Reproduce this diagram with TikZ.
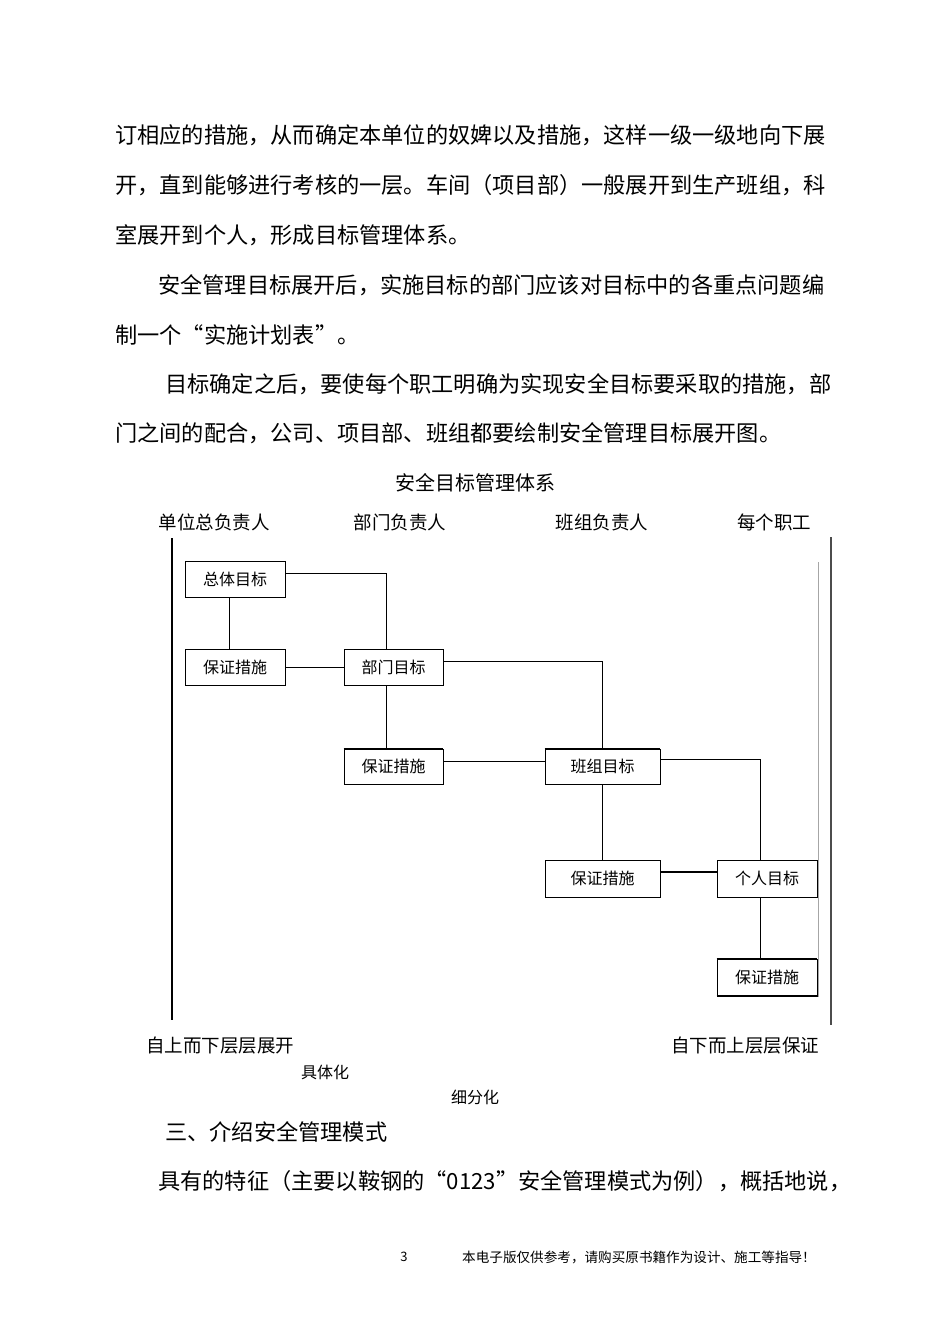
\documentclass[tikz,border=0pt]{standalone}
\usepackage{fontspec}
\setmainfont{Noto Sans CJK SC}
\begin{document}
\begin{tikzpicture}[x=1pt,y=-1pt,
  body/.style={anchor=west,inner sep=0pt,font=\fontsize{22.2}{22}\selectfont},
  hdr/.style={inner sep=0pt,font=\fontsize{18.5}{18}\selectfont},
  bx/.style={draw,line width=0.8pt,inner sep=0pt,font=\fontsize{16}{16}\selectfont},
  ln/.style={line width=0.8pt}]
\useasboundingbox (0,0) rectangle (950,1344);
\node[body] (t1) at (115,135) {订相应的措施，从而确定本单位的奴婢以及措施，这样一级一级地向下展};
\node[body] (t2) at (115,185) {开，直到能够进行考核的一层。车间（项目部）一般展开到生产班组，科};
\node[body] (t3) at (115,235) {室展开到个人，形成目标管理体系。};
\node[body] (t4) at (158,285) {安全管理目标展开后，实施目标的部门应该对目标中的各重点问题编};
\node[body] (t5) at (115,335) {制一个“实施计划表”。};
\node[body] (t6) at (165,384) {目标确定之后，要使每个职工明确为实现安全目标要采取的措施，部};
\node[body] (t7) at (115,433) {门之间的配合，公司、项目部、班组都要绘制安全管理目标展开图。};
\node[hdr,font=\fontsize{20}{20}\selectfont] (title) at (475,483) {安全目标管理体系};
\node[hdr] (h1) at (214,522) {单位总负责人};
\node[hdr] (h2) at (400,522) {部门负责人};
\node[hdr] (h3) at (602,522) {班组负责人};
\node[hdr] (h4) at (774,522) {每个职工};
\coordinate (la) at (172,538); \coordinate (lb) at (172,1020);
\draw[line width=1.3pt] (la) -- (lb);
\coordinate (ra) at (831,537); \coordinate (rb) at (831,1025);
\draw[line width=1.6pt,black!70] (ra) -- (rb);
\coordinate (ga) at (818,562); \coordinate (gb) at (818,997);
\draw[line width=1pt,black!35] (ga) -- (gb);
\node[bx,minimum width=100pt,minimum height=36pt] (b1) at (235,579) {总体目标};
\node[bx,minimum width=100pt,minimum height=36pt] (b2) at (235,667) {保证措施};
\node[bx,minimum width=99pt,minimum height=36pt] (b3) at (393.5,667) {部门目标};
\node[bx,minimum width=99pt,minimum height=35pt] (b4) at (393.5,766.5) {保证措施};
\draw[line width=2pt] (b4.north west) -- (b4.north east);
\node[bx,minimum width=115pt,minimum height=35pt] (b5) at (602.5,766.5) {班组目标};
\draw[line width=2pt] (b5.north west) -- (b5.north east);
\node[bx,minimum width=115pt,minimum height=37pt] (b6) at (602.5,878.5) {保证措施};
\node[bx,minimum width=100pt,minimum height=37pt] (b7) at (767,878.5) {个人目标};
\node[bx,minimum width=100pt,minimum height=37pt] (b8) at (767,977.5) {保证措施};
\draw[line width=2pt] (b8.north west) -- (b8.north east);
\draw[line width=2pt] (b8.south west) -- (b8.south east);
\draw[ln] (b1.east |- 0,573) -| (b3.north -| 386,0);
\draw[ln] (b1.south -| 229,0) -- (b2.north -| 229,0);
\draw[ln] (b2.east) -- (b3.west);
\draw[ln] (b3.east |- 0,661) -| (b5.north);
\draw[ln] (b3.south -| 386,0) -- (b4.north -| 386,0);
\draw[ln] (b4.east |- 0,761) -- (b5.west |- 0,761);
\draw[ln] (b5.east |- 0,759) -| (b7.north -| 760,0);
\draw[ln] (b5.south) -- (b6.north);
\draw[line width=2pt] (b6.east |- 0,872) -- (b7.west |- 0,872);
\draw[ln] (b7.south -| 760,0) -- (b8.north -| 760,0);
\node[hdr] (f1) at (220,1046) {自上而下层层展开};
\node[hdr] (f2) at (745,1046) {自下而上层层保证};
\node[hdr,font=\fontsize{16}{16}\selectfont] (f3) at (325,1072) {具体化};
\node[hdr,font=\fontsize{16}{16}\selectfont] (f4) at (475,1097) {细分化};
\node[body] (t8) at (165,1132) {三、介绍安全管理模式};
\node[body] (t9) at (158,1181) {具有的特征（主要以鞍钢的“0123”安全管理模式为例），概括地说，};
\node[hdr,font=\fontsize{13}{13}\selectfont] (pg) at (404,1257) {3};
\node[hdr,anchor=west,font=\fontsize{13.6}{13.6}\selectfont] (ft) at (462,1257) {本电子版仅供参考，请购买原书籍作为设计、施工等指导！};
\end{tikzpicture}
\end{document}
